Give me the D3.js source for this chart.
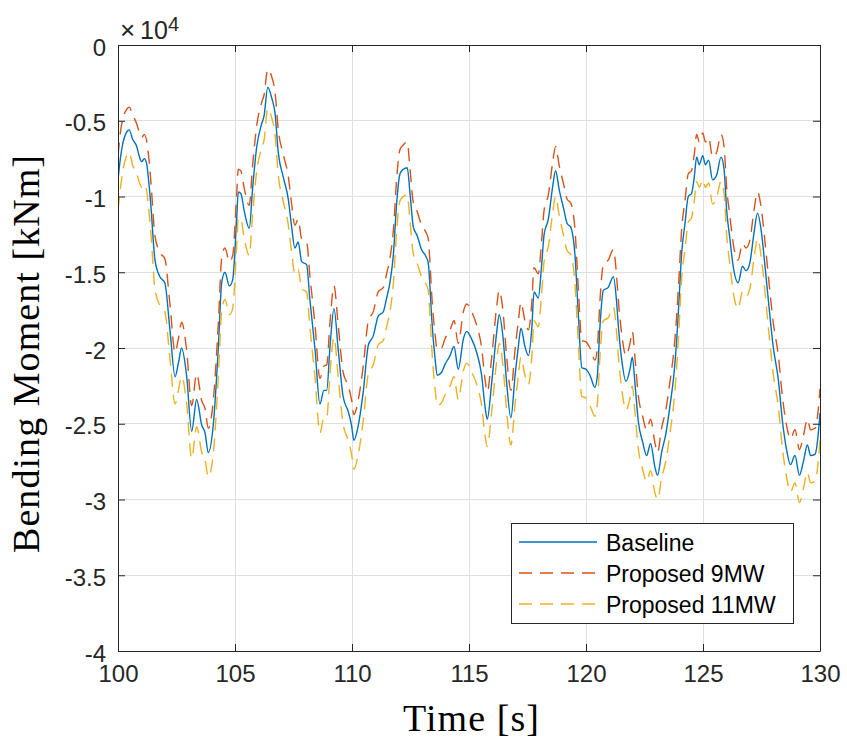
<!DOCTYPE html>
<html>
<head>
<meta charset="utf-8">
<script src="https://cdn.jsdelivr.net/npm/d3@7"></script>
<style>
  html, body { margin: 0; padding: 0; background: #fff; }
  svg { display: block; }
</style>
</head>
<body>
<svg id="chart" width="847" height="745"></svg>
<script>
// ---- Data (values in units of 10^4 kNm) ----
const time = [100.00,100.10,100.22,100.35,100.48,100.62,100.80,100.92,101.02,101.12,101.22,101.30,101.40,101.58,101.79,102.00,102.22,102.44,102.58,102.72,102.93,103.15,103.36,103.58,103.72,103.86,104.07,104.29,104.43,104.57,104.76,104.90,105.07,105.14,105.25,105.40,105.61,105.75,105.93,106.14,106.24,106.40,106.57,106.71,106.85,107.06,107.28,107.42,107.56,107.70,107.85,108.06,108.20,108.42,108.63,108.80,108.92,109.06,109.23,109.41,109.62,109.84,109.98,110.08,110.27,110.48,110.70,110.91,111.12,111.34,111.48,111.62,111.77,111.91,112.05,112.19,112.36,112.48,112.62,112.79,112.97,113.14,113.26,113.33,113.40,113.55,113.64,113.83,113.97,114.19,114.36,114.54,114.76,114.90,115.11,115.33,115.54,115.68,115.78,115.97,116.18,116.29,116.46,116.61,116.79,116.97,117.11,117.22,117.39,117.54,117.68,117.78,117.96,118.10,118.21,118.39,118.58,118.70,118.86,119.03,119.20,119.34,119.53,119.67,119.82,120.00,120.17,120.38,120.48,120.60,120.74,120.95,121.17,121.31,121.38,121.52,121.71,121.88,121.98,122.09,122.24,122.42,122.59,122.76,122.95,123.06,123.23,123.42,123.59,123.76,123.87,123.97,124.09,124.23,124.37,124.51,124.62,124.73,124.84,124.99,125.10,125.24,125.41,125.58,125.77,125.90,126.01,126.15,126.29,126.50,126.69,126.84,127.00,127.18,127.33,127.50,127.65,127.79,128.00,128.22,128.40,128.57,128.74,128.93,129.12,129.29,129.46,129.60,129.79,129.93,130.00];

const baseline = [-0.89,-0.75,-0.64,-0.58,-0.56,-0.62,-0.67,-0.74,-0.77,-0.75,-0.78,-0.88,-1.05,-1.42,-1.53,-1.57,-1.88,-2.19,-2.10,-2.00,-2.18,-2.55,-2.34,-2.51,-2.56,-2.69,-2.51,-1.99,-1.57,-1.50,-1.59,-1.55,-1.15,-0.97,-0.98,-1.10,-1.21,-0.95,-0.67,-0.52,-0.47,-0.28,-0.35,-0.45,-0.71,-0.87,-1.02,-1.20,-1.34,-1.30,-1.43,-1.45,-1.68,-2.01,-2.37,-2.28,-2.28,-1.99,-1.74,-2.01,-2.32,-2.42,-2.51,-2.61,-2.51,-2.29,-1.98,-1.92,-1.79,-1.76,-1.67,-1.57,-1.38,-1.04,-0.85,-0.82,-0.81,-0.98,-1.20,-1.26,-1.35,-1.39,-1.44,-1.59,-1.79,-2.07,-2.18,-2.16,-2.11,-2.05,-1.99,-2.14,-1.94,-1.89,-1.94,-2.03,-2.18,-2.38,-2.47,-2.23,-1.90,-1.78,-1.94,-2.23,-2.46,-2.18,-1.99,-1.87,-1.99,-2.05,-1.88,-1.63,-1.67,-1.46,-1.25,-1.15,-0.93,-0.83,-0.96,-1.07,-1.18,-1.20,-1.39,-1.77,-2.13,-2.14,-2.18,-2.26,-2.19,-1.85,-1.62,-1.60,-1.53,-1.70,-1.85,-2.07,-2.22,-2.14,-2.06,-2.23,-2.49,-2.62,-2.71,-2.63,-2.79,-2.84,-2.69,-2.56,-2.38,-2.17,-1.96,-1.70,-1.37,-1.18,-1.00,-0.98,-0.88,-0.74,-0.79,-0.73,-0.79,-0.76,-0.89,-0.86,-0.74,-0.82,-1.09,-1.28,-1.46,-1.57,-1.46,-1.49,-1.44,-1.24,-1.11,-1.24,-1.46,-1.68,-1.99,-2.21,-2.49,-2.67,-2.77,-2.71,-2.84,-2.75,-2.64,-2.71,-2.70,-2.56,-2.43];

const proposed9 = [-0.73,-0.58,-0.48,-0.43,-0.41,-0.46,-0.52,-0.58,-0.61,-0.59,-0.63,-0.72,-0.89,-1.26,-1.37,-1.41,-1.71,-2.03,-1.94,-1.83,-2.01,-2.38,-2.17,-2.35,-2.40,-2.53,-2.35,-1.83,-1.41,-1.34,-1.43,-1.39,-0.99,-0.82,-0.83,-0.95,-1.06,-0.80,-0.53,-0.38,-0.33,-0.16,-0.21,-0.31,-0.56,-0.72,-0.87,-1.05,-1.19,-1.15,-1.28,-1.30,-1.52,-1.85,-2.20,-2.12,-2.11,-1.83,-1.59,-1.85,-2.16,-2.25,-2.34,-2.44,-2.34,-2.12,-1.82,-1.76,-1.63,-1.60,-1.51,-1.41,-1.22,-0.88,-0.69,-0.66,-0.64,-0.82,-1.04,-1.10,-1.19,-1.23,-1.28,-1.43,-1.63,-1.91,-2.01,-2.00,-1.94,-1.88,-1.82,-1.97,-1.76,-1.71,-1.76,-1.85,-2.00,-2.20,-2.29,-2.06,-1.73,-1.62,-1.77,-2.06,-2.28,-2.01,-1.82,-1.70,-1.82,-1.88,-1.71,-1.47,-1.51,-1.30,-1.09,-0.99,-0.77,-0.67,-0.80,-0.91,-1.02,-1.04,-1.22,-1.60,-1.95,-1.96,-2.00,-2.08,-2.01,-1.68,-1.45,-1.42,-1.35,-1.53,-1.68,-1.90,-2.05,-1.97,-1.89,-2.06,-2.32,-2.45,-2.54,-2.47,-2.63,-2.69,-2.53,-2.40,-2.22,-2.01,-1.80,-1.54,-1.21,-1.03,-0.85,-0.83,-0.73,-0.59,-0.64,-0.58,-0.64,-0.61,-0.74,-0.71,-0.59,-0.67,-0.94,-1.13,-1.31,-1.42,-1.31,-1.34,-1.29,-1.09,-0.97,-1.09,-1.30,-1.52,-1.83,-2.05,-2.33,-2.51,-2.60,-2.54,-2.67,-2.58,-2.47,-2.54,-2.53,-2.40,-2.27];

const proposed11 = [-1.09,-0.95,-0.82,-0.74,-0.71,-0.79,-0.85,-0.91,-0.94,-0.92,-0.96,-1.06,-1.23,-1.61,-1.72,-1.76,-2.07,-2.37,-2.28,-2.19,-2.36,-2.73,-2.52,-2.69,-2.74,-2.85,-2.70,-2.18,-1.76,-1.68,-1.78,-1.74,-1.33,-1.14,-1.15,-1.28,-1.39,-1.12,-0.83,-0.68,-0.63,-0.42,-0.48,-0.59,-0.86,-1.03,-1.19,-1.37,-1.51,-1.48,-1.61,-1.63,-1.86,-2.20,-2.56,-2.46,-2.46,-2.17,-1.93,-2.19,-2.50,-2.61,-2.70,-2.80,-2.70,-2.48,-2.17,-2.11,-1.98,-1.95,-1.86,-1.76,-1.57,-1.22,-1.03,-1.00,-0.99,-1.16,-1.38,-1.44,-1.53,-1.57,-1.62,-1.78,-1.98,-2.27,-2.38,-2.36,-2.31,-2.25,-2.19,-2.34,-2.15,-2.10,-2.16,-2.24,-2.38,-2.57,-2.65,-2.42,-2.09,-1.97,-2.13,-2.42,-2.64,-2.37,-2.18,-2.06,-2.18,-2.24,-2.07,-1.82,-1.86,-1.65,-1.43,-1.33,-1.10,-1.00,-1.13,-1.25,-1.36,-1.38,-1.58,-1.96,-2.32,-2.33,-2.38,-2.45,-2.38,-2.05,-1.82,-1.80,-1.73,-1.90,-2.05,-2.26,-2.41,-2.33,-2.25,-2.42,-2.67,-2.80,-2.88,-2.81,-2.96,-3.00,-2.86,-2.74,-2.56,-2.35,-2.14,-1.88,-1.54,-1.35,-1.17,-1.14,-1.04,-0.90,-0.94,-0.89,-0.94,-0.91,-1.05,-1.01,-0.90,-0.98,-1.25,-1.45,-1.63,-1.74,-1.63,-1.66,-1.61,-1.41,-1.28,-1.41,-1.63,-1.86,-2.17,-2.39,-2.67,-2.85,-2.95,-2.89,-3.02,-2.93,-2.82,-2.89,-2.88,-2.74,-2.61];

const seriesNames = ["Baseline", "Proposed 9MW", "Proposed 11MW"];
const xTicks = [100, 105, 110, 115, 120, 125, 130];
const yTicks = [-4, -3.5, -3, -2.5, -2, -1.5, -1, -0.5, 0];

// ---- Layout ----
const svg = d3.select("#chart");
const L = 118, R = 820, T = 45, B = 651;
const x = d3.scaleLinear().domain([100, 130]).range([L, R]);
const y = d3.scaleLinear().domain([-4, 0]).range([B, T]);
const axisColor = "#262626";
const tickFont = "Arial, 'Liberation Sans', Helvetica, sans-serif";
const colors = ["#0072BD", "#D95319", "#EDB120"];
const dashes = [null, "13,8", "13,8"];

// background
svg.append("rect").attr("width", 847).attr("height", 745).attr("fill", "#fff");
svg.append("rect").attr("x", L).attr("y", T).attr("width", R - L).attr("height", B - T).attr("fill", "#fff");

// grid
const grid = svg.append("g");
grid.selectAll(".gx").data(xTicks).enter().append("line")
  .attr("x1", d => x(d)).attr("x2", d => x(d)).attr("y1", T).attr("y2", B)
  .attr("stroke", "#dfdfdf").attr("stroke-width", 1).attr("shape-rendering", "crispEdges");
grid.selectAll(".gy").data(yTicks).enter().append("line")
  .attr("x1", L).attr("x2", R).attr("y1", d => y(d)).attr("y2", d => y(d))
  .attr("stroke", "#dfdfdf").attr("stroke-width", 1).attr("shape-rendering", "crispEdges");

// clip
svg.append("clipPath").attr("id", "clip").append("rect")
  .attr("x", L).attr("y", T).attr("width", R - L).attr("height", B - T);

const line = d3.line().x(d => x(d[0])).y(d => y(d[1])).curve(d3.curveMonotoneX);
const allSeries = [baseline, proposed9, proposed11];
const plot = svg.append("g").attr("clip-path", "url(#clip)");
allSeries.forEach((vals, i) => {
  plot.append("path")
    .datum(time.map((t, k) => [t, vals[k]]))
    .attr("d", line)
    .attr("fill", "none")
    .attr("stroke", colors[i])
    .attr("stroke-width", 1.4)
    .attr("stroke-dasharray", dashes[i])
    .attr("stroke-linejoin", "round");
});

// axes (box with inside ticks)
const tickLen = 7;
const xAxisB = d3.axisBottom(x).tickValues(xTicks).tickSizeInner(-tickLen).tickSizeOuter(0).tickPadding(14).tickFormat(d3.format("d"));
const xAxisT = d3.axisTop(x).tickValues(xTicks).tickSizeInner(-tickLen).tickSizeOuter(0).tickFormat("");
const yAxisL = d3.axisLeft(y).tickValues(yTicks).tickSizeInner(-tickLen).tickSizeOuter(0).tickPadding(12)
  .tickFormat(d => d === 0 ? "0" : String(d).replace("\u2212", "-"));
const yAxisR = d3.axisRight(y).tickValues(yTicks).tickSizeInner(-tickLen).tickSizeOuter(0).tickFormat("");

function styleAxis(g) {
  g.selectAll("path").attr("stroke", axisColor).attr("stroke-width", 1);
  g.selectAll("line").attr("stroke", axisColor).attr("stroke-width", 1);
  g.selectAll("text").attr("fill", axisColor).attr("font-family", tickFont).attr("font-size", 24);
}
svg.append("g").attr("transform", `translate(0,${B})`).call(xAxisB).call(styleAxis)
  .selectAll("text").attr("dy", "0.71em");
svg.append("g").attr("transform", `translate(0,${T})`).call(xAxisT).call(styleAxis);
svg.append("g").attr("transform", `translate(${L},0)`).call(yAxisL).call(styleAxis)
  .selectAll("text").attr("dy", "0.42em");
svg.append("g").attr("transform", `translate(${R},0)`).call(yAxisR).call(styleAxis);

// exponent label (×10^4)
const expG = svg.append("g").attr("fill", axisColor).attr("font-family", tickFont);
expG.append("text").attr("x", 120).attr("y", 39).attr("font-size", 26).text("\u00D7");
expG.append("text").attr("x", 140).attr("y", 39).attr("font-size", 25).text("10");
expG.append("text").attr("x", 168).attr("y", 30.5).attr("font-size", 20).text("4");

// axis labels
svg.append("text")
  .attr("transform", "translate(38.5,354) rotate(-90)")
  .attr("text-anchor", "middle")
  .attr("font-family", "'Liberation Serif', 'Times New Roman', serif")
  .attr("font-size", 38).attr("fill", "#000")
  .attr("textLength", 398).attr("lengthAdjust", "spacing")
  .text("Bending Moment [kNm]");
svg.append("text")
  .attr("x", 471).attr("y", 731)
  .attr("text-anchor", "middle")
  .attr("font-family", "'Liberation Serif', 'Times New Roman', serif")
  .attr("font-size", 38).attr("fill", "#000")
  .attr("textLength", 136).attr("lengthAdjust", "spacing")
  .text("Time [s]");

// legend
const lg = svg.append("g");
lg.append("rect").attr("x", 511.5).attr("y", 523.5).attr("width", 282).attr("height", 100)
  .attr("fill", "#fff").attr("stroke", axisColor).attr("stroke-width", 1);
const rowY = [542, 573, 604];
seriesNames.forEach((name, i) => {
  lg.append("line").attr("x1", 519).attr("x2", 597).attr("y1", rowY[i]).attr("y2", rowY[i])
    .attr("stroke", colors[i]).attr("stroke-width", 1.4).attr("stroke-dasharray", dashes[i]);
  lg.append("text").attr("x", 606).attr("y", rowY[i] + 8.5)
    .attr("font-family", tickFont).attr("font-size", 23).attr("fill", "#000").text(name);
});
</script>
</body>
</html>
